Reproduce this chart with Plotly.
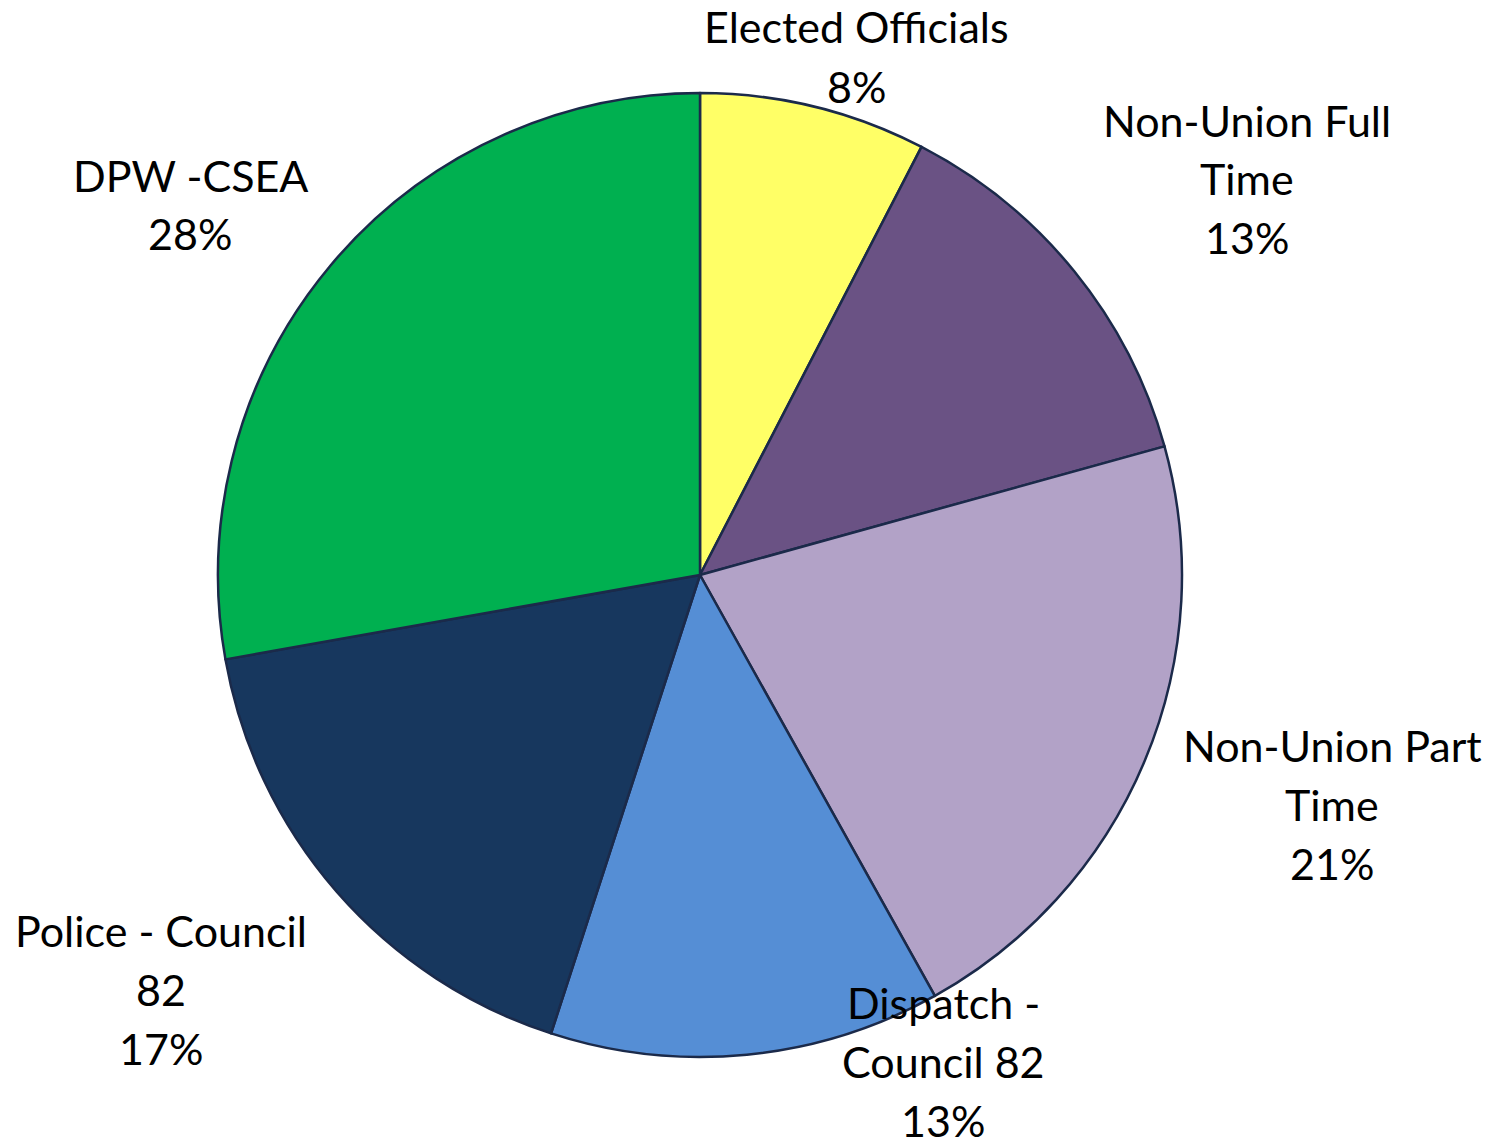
import plotly.graph_objects as go

labels = ["Elected Officials", "Non-Union Full Time", "Non-Union Part Time",
          "Dispatch - Council 82", "Police - Council 82", "DPW -CSEA"]
label_lines = [["Elected Officials"], ["Non-Union Full", "Time"], ["Non-Union Part", "Time"],
               ["Dispatch -", "Council 82"], ["Police - Council", "82"], ["DPW -CSEA"]]
values = [7.6, 13.1, 21.2, 13.1, 17.2, 27.8]
colors = ["#FFFF66", "#6A5284", "#B2A2C7", "#558ED5", "#17375E", "#00B050"]

W, H = 1495, 1139
cx, cy, r = 700, 575, 482

# label anchor positions (px): center x, first-line center y
label_pos = [(856, 27), (1247, 120), (1332, 745), (943, 1002), (161, 930), (190, 175)]
line_gap = 59

fig = go.Figure(go.Pie(
    labels=labels, values=values, sort=False, direction="clockwise", rotation=0,
    marker=dict(colors=colors, line=dict(color="#1B2A4A", width=2.5)),
    textinfo="none", hoverinfo="label+percent", showlegend=False,
    domain=dict(x=[(cx - r) / W, (cx + r) / W], y=[(H - cy - r) / H, (H - cy + r) / H]),
))

total = sum(values)
annotations = []
for lines, v, (px, py) in zip(label_lines, values, label_pos):
    all_lines = lines + [f"{round(100 * v / total)}%"]
    for i, t in enumerate(all_lines):
        annotations.append(dict(
            text=t, x=px / W, y=1 - (py + i * line_gap) / H, xref="paper", yref="paper",
            xanchor="center", yanchor="middle", showarrow=False,
            font=dict(family="Lato, Carlito, sans-serif", size=43, color="#000000"),
        ))

fig.update_layout(
    width=W, height=H, margin=dict(l=0, r=0, t=0, b=0),
    paper_bgcolor="white", plot_bgcolor="white", annotations=annotations,
)
fig.write_html("out.html")
